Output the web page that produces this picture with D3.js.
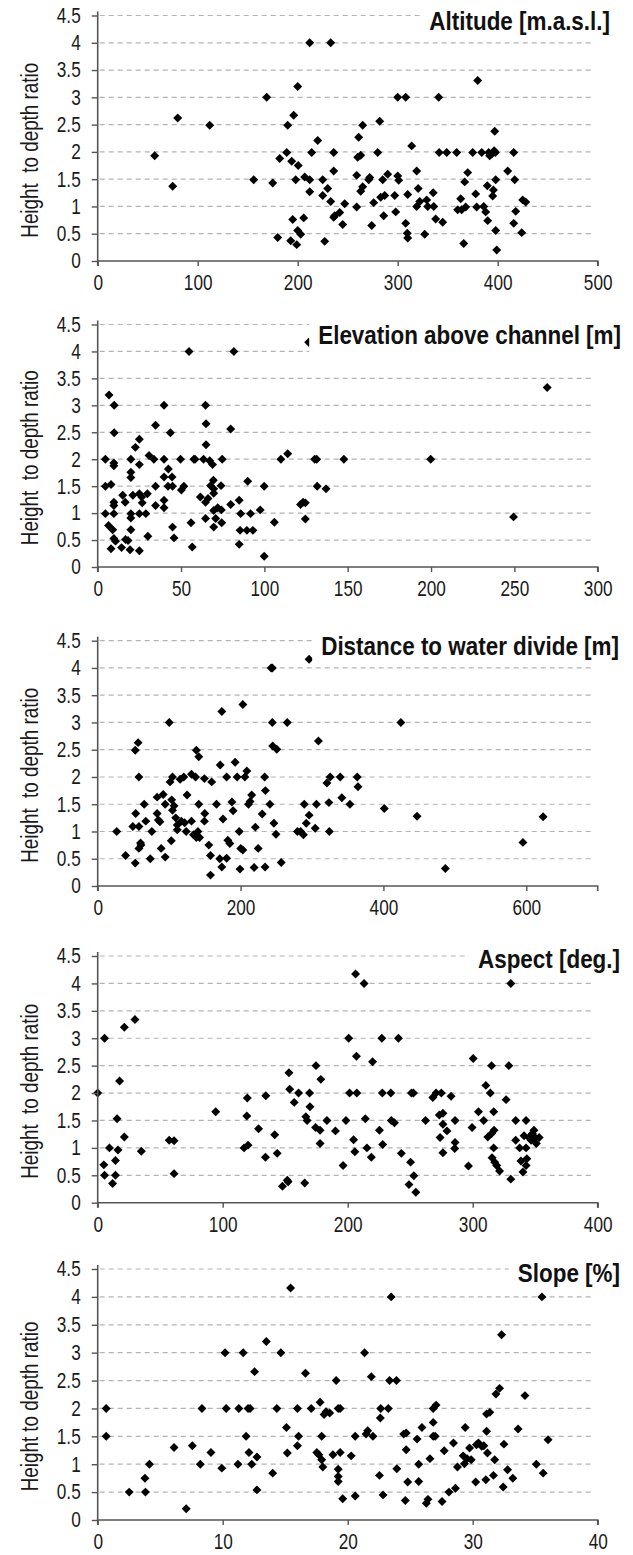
<!DOCTYPE html>
<html>
<head>
<meta charset="utf-8">
<script src="https://cdn.jsdelivr.net/npm/d3@7"></script>
<style>
  html, body { margin: 0; padding: 0; background: #fff; }
  svg { display: block; font-family: "Liberation Sans", Arial, sans-serif; }
</style>
</head>
<body>
<svg id="chart" width="633" height="1555"></svg>
<script>
// Height-to-depth ratio against five terrain variables, one scatter per panel.

const Y_TICKS = [0, 0.5, 1, 1.5, 2, 2.5, 3, 3.5, 4, 4.5];

// [x, ratio] pairs
const altitude = [
  [57, 1.93], [75, 1.37], [80, 2.62], [112, 2.49], [156, 1.49], [169, 3.0], [175, 1.43],
  [180, 0.43], [182, 1.88], [189, 1.99], [190, 2.49], [196, 2.67], [194, 1.83], [193, 0.37],
  [195, 0.76], [200, 3.2], [200.5, 1.75], [198, 1.49], [200, 0.56], [199, 0.30], [203, 0.49],
  [206, 0.79], [207, 1.54], [212, 4.0], [212, 1.49], [212, 1.27], [214, 1.99], [220, 2.21],
  [225, 1.49], [225, 1.20], [227, 0.36], [230, 1.33], [233, 1.09], [233, 4.0], [236, 1.99],
  [236, 1.65], [236, 0.80], [237, 0.83], [242, 0.89], [245, 0.67], [247, 1.05], [259, 0.99],
  [259, 1.57], [260, 1.90], [261, 2.27], [263, 1.94], [263, 1.28], [265, 1.36], [265, 2.49],
  [271, 1.49], [272, 1.53], [274, 0.65], [276, 1.07], [280, 1.99], [282, 2.56], [283, 1.17],
  [285, 1.49], [286, 0.83], [287, 1.20], [290, 1.59], [297, 1.20], [298, 0.90], [300, 1.56],
  [301, 1.48], [300, 3.0], [308, 3.0], [308, 0.69], [309.6, 0.51], [310, 0.42], [310, 1.22],
  [314, 2.11], [319, 1.65], [319, 1.00], [320.5, 1.33], [322, 1.09], [327, 0.49], [329, 1.12],
  [330, 1.00], [335.5, 1.25], [336, 1.00], [338, 0.77], [341, 3.0], [341.5, 1.99], [345, 0.71],
  [349, 1.99], [359, 1.99], [360, 0.94], [363, 1.14], [364, 0.94], [366, 0.32], [367, 1.45],
  [370, 1.62], [368, 0.99], [375, 1.99], [378, 1.23], [379, 0.99], [380, 3.31], [384, 1.99],
  [386, 1.00], [388, 0.90], [390, 0.74], [389.6, 1.38], [391, 1.99], [392, 1.93], [394, 1.96],
  [395, 1.19], [395.7, 1.30], [396.5, 2.02], [397, 2.38], [398, 1.49], [398, 0.56], [399, 0.20],
  [397.7, 1.99], [410, 1.65], [416, 1.99], [417, 1.49], [416, 0.69], [418, 0.91], [424, 0.52],
  [425, 1.12], [428, 1.08], [359, 4.22]
];

const elevation = [
  [4.6, 2.0], [4.6, 1.5], [4.6, 0.99], [6.8, 3.19], [8.0, 1.53], [6.5, 0.77], [8.0, 0.34],
  [9.9, 3.0], [9.9, 2.49], [9.7, 1.93], [9.7, 1.88], [9.7, 1.2], [9.7, 1.14], [9.7, 0.99],
  [9.0, 0.69], [9.7, 0.53], [10.7, 0.48], [14.3, 0.36], [15.0, 1.33], [16.5, 1.2], [16.7, 0.51],
  [18.2, 0.49], [19.4, 0.32], [19.9, 2.0], [19.9, 1.76], [19.9, 1.66], [19.9, 0.99], [19.9, 0.91],
  [19.9, 0.69], [21.1, 1.33], [22.6, 2.22], [25.0, 2.37], [25.0, 1.9], [25.0, 1.36], [25.0, 0.99],
  [25.0, 0.30], [26.4, 1.30], [26.7, 1.19], [28.9, 0.99], [29.8, 1.36], [30.1, 0.57], [30.8, 2.07],
  [33.7, 2.0], [34.7, 2.63], [34.7, 1.5], [34.7, 1.14], [39.8, 3.0], [39.8, 2.0], [39.8, 1.67],
  [39.8, 1.24], [39.8, 1.1], [42.4, 1.82], [42.2, 1.5], [43.6, 2.49], [44.6, 1.67], [44.9, 1.5],
  [44.9, 0.74], [45.8, 0.54], [49.7, 2.0], [50.2, 1.43], [51.7, 1.5], [54.8, 4.0], [56.0, 0.82],
  [56.7, 0.37], [58.4, 2.0], [57.7, 2.0], [61.6, 1.30], [63.5, 2.0], [64.7, 3.0], [65.0, 2.66],
  [65.0, 2.27], [64.7, 1.2], [64.7, 0.9], [67.2, 1.97], [66.2, 1.27], [67.7, 1.51], [68.9, 1.9],
  [69.4, 1.61], [69.6, 1.45], [69.6, 1.37], [69.6, 1.05], [69.6, 0.74], [70.8, 0.9], [72.0, 1.1],
  [74.0, 1.51], [74.7, 2.0], [74.2, 1.06], [74.4, 0.82], [79.8, 2.56], [81.7, 4.0], [79.8, 1.16],
  [84.9, 1.24], [85.8, 0.99], [84.9, 0.42], [85.4, 0.68], [89.5, 0.68], [90.0, 1.59], [91.7, 0.99],
  [93.1, 0.68], [97.5, 1.06], [99.9, 1.5], [99.9, 0.20], [106.0, 0.83], [109.9, 2.0], [114.0, 2.1],
  [121.7, 1.16], [123.2, 1.2], [124.6, 1.19], [124.6, 0.89], [130.2, 2.0], [131.4, 2.0],
  [131.7, 1.5], [137.0, 1.45], [147.7, 2.0], [199.8, 2.0], [249.5, 0.93], [269.7, 3.33],
  [126.6, 4.17]
];

const distance = [
  [26.6, 1.0], [39.0, 0.56], [49.2, 1.09], [52.6, 0.42], [53.2, 1.33], [52.6, 2.49], [56.6, 2.63],
  [57.7, 2.0], [57.7, 1.09], [57.7, 0.69], [60.0, 0.79], [60.6, 0.75], [65.1, 1.5], [67.3, 1.19],
  [73.6, 0.50], [75.8, 1.0], [83.2, 1.63], [83.2, 1.33], [84.9, 1.21], [87.1, 1.18], [88.8, 0.69],
  [91.7, 1.68], [94.5, 1.5], [94.5, 0.53], [100.2, 3.0], [101.3, 1.91], [103.0, 0.83], [103.6, 1.58],
  [104.7, 2.0], [104.7, 1.39], [106.9, 1.47], [109.2, 1.25], [111.4, 1.03], [111.4, 1.12],
  [115.4, 1.96], [117.1, 1.19], [120.5, 2.0], [121.7, 1.16], [123.9, 1.0], [125.1, 1.67],
  [131.3, 1.19], [131.3, 2.05], [137.0, 2.0], [138.1, 2.49], [141.5, 2.37], [134.1, 0.94],
  [138.1, 0.89], [140.3, 1.0], [141.5, 1.5], [142.6, 0.89], [149.4, 1.97], [149.9, 1.33],
  [149.4, 1.19], [155.6, 0.75], [157.9, 0.56], [157.9, 0.20], [159.6, 1.91], [166.3, 1.5],
  [170.9, 0.50], [171.5, 2.22], [173.8, 3.2], [173.8, 0.35], [175.4, 1.23], [180.5, 2.0],
  [180.5, 0.51], [182.2, 0.84], [185.0, 0.78], [187.9, 1.54], [189.6, 1.38], [192.4, 2.27],
  [195.2, 2.0], [198.1, 1.0], [199.2, 0.31], [200.3, 0.69], [203.2, 3.33], [203.2, 0.66],
  [206.0, 2.0], [208.8, 2.11], [211.1, 1.5], [213.3, 1.55], [215.6, 1.67], [220.7, 1.08],
  [219.0, 0.34], [224.7, 0.69], [230.3, 1.32], [233.7, 2.0], [234.8, 1.75], [234.3, 0.35],
  [241.1, 1.5], [242.8, 4.0], [244.5, 4.0], [244.5, 3.0], [245.0, 2.57], [246.7, 1.15],
  [249.6, 0.95], [250.7, 2.51], [256.9, 0.43], [265.4, 3.0], [279.6, 1.0], [284.1, 1.0],
  [288.0, 0.94], [289.2, 1.5], [292.0, 1.15], [296.0, 1.30], [296.0, 4.16], [304.5, 1.06],
  [306.2, 1.5], [309.0, 2.66], [320.9, 1.89], [323.7, 1.53], [324.3, 1.0], [325.4, 2.0],
  [339.5, 2.0], [341.8, 1.62], [353.1, 1.5], [363.3, 2.0], [364.4, 1.82], [401.2, 1.42],
  [424.4, 3.0], [447.1, 1.28], [486.7, 0.32], [595.3, 0.80], [623.6, 1.27]
];

const aspect = [
  [0, 2.0], [4.9, 0.69], [5.5, 3.0], [5.5, 0.5], [9.4, 1.0], [11.9, 0.35], [14.2, 0.77],
  [14.2, 0.5], [15.5, 1.53], [16.2, 0.96], [17.5, 2.22], [21.3, 3.2], [21.3, 1.2], [29.8, 3.34],
  [34.9, 0.94], [57.2, 1.14], [61.1, 1.13], [61.1, 0.53], [94.4, 1.66], [117.1, 1.0], [119.7, 1.91],
  [119.3, 1.58], [120.3, 1.05], [128.7, 1.35], [134.5, 1.95], [134.2, 0.83], [141.6, 1.24],
  [143.6, 0.90], [147.8, 0.30], [151.7, 0.41], [152.3, 0.38], [153.0, 2.37], [153.6, 2.07],
  [157.2, 1.83], [160.7, 2.0], [165.6, 0.36], [166.5, 1.57], [167.5, 1.50], [169.5, 2.0],
  [169.8, 1.75], [174.6, 2.5], [174.3, 1.37], [177.9, 1.32], [178.5, 2.25], [177.9, 1.08],
  [183.4, 1.5], [190.2, 1.31], [196.3, 0.68], [198.6, 1.5], [200.8, 3.0], [201.5, 2.0],
  [204.7, 1.15], [205.7, 0.93], [206.3, 4.17], [207.0, 2.67], [207.3, 2.0], [213.1, 4.0],
  [214.1, 1.53], [215.4, 1.0], [218.9, 0.83], [219.9, 2.57], [225.4, 1.32], [227.3, 3.0],
  [227.7, 2.0], [228.0, 1.06], [234.5, 2.0], [234.9, 1.5], [237.4, 1.46], [240.6, 3.0],
  [242.9, 0.90], [249.0, 0.33], [250.3, 0.74], [251.0, 2.0], [252.6, 2.0], [252.9, 0.49],
  [254.5, 0.19], [262.3, 1.5], [268.1, 1.92], [270.7, 2.0], [273.3, 1.60], [273.9, 1.19],
  [274.9, 2.0], [276.2, 1.63], [276.2, 1.43], [276.2, 0.91], [279.4, 1.31], [282.7, 1.94],
  [285.9, 1.5], [285.9, 1.10], [285.6, 0.99], [296.6, 0.67], [299.5, 1.37], [300.4, 2.63],
  [304.6, 1.66], [308.8, 1.5], [310.5, 2.14], [312.1, 1.2], [314.1, 2.0], [315.1, 2.5],
  [315.1, 1.26], [317.1, 1.32], [316.8, 1.66], [316.8, 1.0], [315.5, 0.82], [317.6, 0.74],
  [319.2, 0.68], [321.5, 0.58], [326.7, 1.88], [328.9, 2.5], [330.5, 4.0], [330.5, 0.43],
  [334.4, 1.5], [334.4, 1.14], [337.6, 1.0], [338.6, 0.76], [340.2, 0.56], [341.1, 1.22],
  [342.7, 1.5], [342.7, 1.0], [343.3, 0.80], [342.7, 0.68], [345.0, 1.19], [346.7, 1.14],
  [347.7, 1.26], [349.0, 1.32], [349.9, 1.19], [350.9, 1.08], [353.2, 1.19]
];

const slope = [
  [0.68, 2.0], [0.68, 1.5], [2.52, 0.5], [3.78, 0.75], [3.82, 0.5], [4.14, 1.0], [6.11, 1.30],
  [7.08, 0.20], [7.57, 1.33], [8.21, 1.0], [8.34, 2.0], [9.06, 1.21], [9.93, 0.93], [10.19, 3.0],
  [10.28, 2.0], [11.22, 1.0], [11.29, 2.0], [11.64, 3.0], [11.87, 1.5], [12.03, 2.0], [12.19, 2.0],
  [12.10, 1.21], [12.32, 1.0], [12.55, 2.66], [12.74, 1.13], [12.74, 0.54], [13.49, 3.2],
  [14.0, 0.84], [14.33, 2.0], [14.65, 3.0], [15.10, 1.66], [15.17, 1.20], [15.43, 4.16],
  [15.98, 2.0], [16.07, 1.5], [15.98, 1.33], [16.62, 2.63], [17.08, 2.0], [17.53, 1.21],
  [17.79, 2.11], [17.69, 1.17], [17.92, 1.5], [17.92, 1.08], [18.01, 0.95], [18.11, 1.89],
  [18.27, 1.94], [18.56, 1.92], [18.82, 1.17], [19.08, 2.5], [19.24, 2.0], [19.40, 2.0],
  [19.24, 0.91], [19.24, 0.78], [19.24, 0.69], [19.40, 1.21], [19.60, 0.38], [20.28, 1.15],
  [20.60, 1.5], [20.60, 0.43], [21.35, 3.0], [21.47, 1.54], [21.60, 1.60], [21.89, 2.57],
  [22.02, 1.5], [22.54, 0.80], [22.61, 1.83], [22.64, 2.0], [22.83, 0.45], [23.25, 2.0],
  [23.48, 4.0], [23.35, 2.5], [23.90, 2.5], [23.93, 0.92], [24.48, 1.54], [24.68, 1.56],
  [24.68, 1.26], [24.80, 0.68], [24.61, 0.35], [25.55, 1.45], [25.68, 1.0], [25.68, 0.69],
  [25.94, 1.66], [26.29, 0.30], [26.42, 0.37], [26.58, 1.10], [26.84, 2.0], [26.84, 1.75],
  [26.84, 1.5], [27.00, 1.5], [27.07, 2.06], [27.55, 0.33], [27.72, 1.24], [28.10, 0.5],
  [28.46, 1.38], [28.62, 0.57], [28.78, 0.95], [29.24, 1.15], [29.34, 1.01], [29.40, 1.66],
  [29.56, 1.10], [29.75, 1.29], [29.88, 1.08], [30.24, 0.68], [30.30, 1.35], [30.46, 1.38],
  [30.72, 1.32], [30.89, 1.33], [31.05, 0.72], [31.11, 1.59], [31.18, 1.20], [31.11, 1.90],
  [31.37, 1.93], [31.66, 0.80], [31.76, 1.08], [31.86, 2.26], [32.15, 2.36], [32.31, 3.32],
  [32.44, 0.59], [32.50, 1.36], [32.79, 0.90], [33.21, 0.75], [33.63, 1.63], [34.18, 2.23],
  [35.09, 1.0], [35.64, 0.84], [36.03, 1.44], [35.54, 4.0]
];

const panels = [
  { title: "Altitude [m.a.s.l.]", data: altitude, xMax: 500, xTicks: [0, 100, 200, 300, 400, 500],
    yLabel: "Height  to depth ratio", top: 15.5, bottom: 261, titleRight: 610, titleBase: 30 },
  { title: "Elevation above channel [m]", data: elevation, xMax: 300, xTicks: [0, 50, 100, 150, 200, 250, 300],
    yLabel: "Height  to depth ratio", top: 324.5, bottom: 567, titleRight: 621, titleBase: 344 },
  { title: "Distance to water divide [m]", data: distance, xMax: 700, xTicks: [0, 200, 400, 600],
    yLabel: "Height  to depth ratio", top: 640.7, bottom: 886, titleRight: 619, titleBase: 655 },
  { title: "Aspect [deg.]", data: aspect, xMax: 400, xTicks: [0, 100, 200, 300, 400],
    yLabel: "Height  to depth ratio", top: 956, bottom: 1202.7, titleRight: 620, titleBase: 968 },
  { title: "Slope [%]", data: slope, xMax: 40, xTicks: [0, 10, 20, 30, 40],
    yLabel: "Height to depth ratio", top: 1269, bottom: 1520, titleRight: 620, titleBase: 1282 },
];

// no narrow face is installed, so text is squeezed horizontally instead
const SQ_TICK = 0.8, SQ_TITLE = 0.88, SQ_LABEL = 0.82;
const X0 = 97.7, X1 = 597.7;
const svg = d3.select("#chart");
const diamond = d3.symbol(d3.symbolSquare, 40);

panels.forEach((p) => {
  const x = d3.scaleLinear().domain([0, p.xMax]).range([X0, X1]);
  const y = d3.scaleLinear().domain([0, 4.5]).range([p.bottom, p.top]);
  const g = svg.append("g");

  // dashed gridlines
  g.append("g").selectAll("line").data(Y_TICKS.filter((d) => d > 0)).join("line")
    .attr("x1", X0 + 2).attr("x2", X1 - 3)
    .attr("y1", (d) => y(d)).attr("y2", (d) => y(d))
    .attr("stroke", "#b4b4b4").attr("stroke-width", 1.2)
    .attr("stroke-dasharray", "5,4");

  // points
  g.append("g").selectAll("path").data(p.data).join("path")
    .attr("d", diamond)
    .attr("transform", (d) => `translate(${x(d[0])},${y(d[1])}) rotate(45)`)
    .attr("fill", "#000");

  // title with a white box that hides what lies behind it
  const tg = g.append("g");
  const box = tg.append("rect").attr("fill", "#fff");
  const t = tg.append("text")
    .attr("transform", `translate(${p.titleRight},${p.titleBase}) scale(${SQ_TITLE},1)`)
    .attr("text-anchor", "end")
    .style("font-size", "25.5px").style("font-weight", "bold")
    .style("fill", "#111").text(p.title);
  const bb = t.node().getBBox();
  const w = bb.width * SQ_TITLE;
  box.attr("x", p.titleRight - w - 9).attr("y", p.titleBase + bb.y - 3)
    .attr("width", w + 15).attr("height", bb.height + 6);

  // axes
  const yAxis = g.append("g").attr("transform", `translate(${X0},0)`)
    .call(d3.axisLeft(y).tickValues(Y_TICKS).tickSize(6).tickPadding(11)
      .tickFormat(d3.format("~g")));
  const xAxis = g.append("g").attr("transform", `translate(0,${p.bottom})`)
    .call(d3.axisBottom(x).tickValues(p.xTicks).tickSize(5).tickPadding(9)
      .tickFormat(d3.format("d")));
  [yAxis, xAxis].forEach((a) => {
    a.attr("font-family", null).attr("font-size", null);
    a.select(".domain").attr("stroke", "#555").attr("stroke-width", 1.6);
    a.selectAll(".tick line").attr("stroke", "#555").attr("stroke-width", 1.4);
    a.selectAll(".tick text").style("font-size", "21.5px").style("fill", "#1a1a1a")
      .attr("transform", `scale(${SQ_TICK},1)`);
  });
  yAxis.selectAll(".tick text").attr("x", -17 / SQ_TICK);
  yAxis.select(".domain").attr("d", `M0,${p.bottom}V${p.top - 4}`);
  xAxis.select(".domain").attr("d", `M${X0},5V0H${X1}V5`);

  // y label
  g.append("text")
    .attr("transform", `translate(30,${(p.top + p.bottom) / 2 + 12}) rotate(-90) scale(${SQ_LABEL},1)`)
    .attr("text-anchor", "middle").attr("dominant-baseline", "central")
    .style("font-size", "23px").style("fill", "#1a1a1a")
    .style("white-space", "pre")
    .text(p.yLabel);
});
</script>
</body>
</html>
